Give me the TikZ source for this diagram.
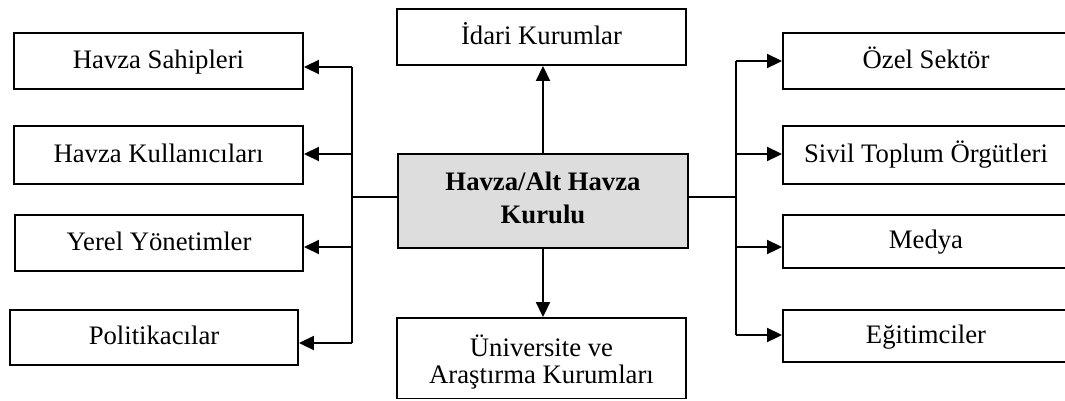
\documentclass[tikz,border=0pt]{standalone}
\usepackage{fontspec}
\setmainfont{Liberation Serif}
\usetikzlibrary{arrows.meta,calc}
\definecolor{boxgray}{HTML}{DDDDDD}
\begin{document}
\begin{tikzpicture}[x=1pt,y=-1pt,
  box/.style={draw, line width=1.9pt, rectangle, inner sep=0pt,
    font=\fontsize{26.7}{31}\selectfont, text height=20pt, text depth=6pt},
  mbox/.style={draw, line width=1.9pt, rectangle, inner sep=0pt, align=center},
  conn/.style={line width=1.9pt},
  arr/.style={line width=1.9pt, -{Triangle[length=15pt,width=14pt]}}]
\useasboundingbox (0,0) rectangle (1065,400);
\clip (0,0) rectangle (1065,400);
% left boxes
\node[box, minimum width=289pt, minimum height=56pt] (L1) at (158.5,61) {Havza Sahipleri};
\node[box, minimum width=289pt, minimum height=58pt] (L2) at (158.5,155) {Havza Kullanıcıları};
\node[box, minimum width=288pt, minimum height=56pt] (L3) at (159,243) {Yerel Yönetimler};
\node[box, minimum width=288pt, minimum height=55pt] (L4) at (154,337.5) {Politikacılar};
% centre column
\node[box, minimum width=289pt, minimum height=56pt] (T) at (541.5,37) {İdari Kurumlar};
\node[mbox, fill=boxgray, minimum width=290pt, minimum height=94pt,
  font=\fontsize{26.7}{33}\selectfont\bfseries] (C) at (543,201)
  {Havza/Alt Havza\\Kurulu\rule[-7pt]{0pt}{7pt}};
\node[mbox, minimum width=289pt, minimum height=80.5pt,
  font=\fontsize{26.7}{27}\selectfont] (B) at (541.5,358.25)
  {\rule{0pt}{29pt}Üniversite ve\\Araştırma Kurumları};
% right boxes
\node[box, minimum width=286pt, minimum height=56pt] (R1) at (926,61) {Özel Sektör};
\node[box, minimum width=286pt, minimum height=58pt] (R2) at (926,155) {Sivil Toplum Örgütleri};
\node[box, minimum width=286pt, minimum height=53pt] (R3) at (926,241.5) {Medya};
\node[box, minimum width=286pt, minimum height=52pt] (R4) at (926,336) {Eğitimciler};
% bus coordinates
\coordinate (cl) at (352,197);
\coordinate (lb1) at (352,67);
\coordinate (lb2) at (352,154);
\coordinate (lb3) at (352,247);
\coordinate (lb4) at (352,343);
\coordinate (cr) at (736,197);
\coordinate (rb1) at (736,61);
\coordinate (rb2) at (736,154);
\coordinate (rb3) at (736,247);
\coordinate (rb4) at (736,335);
% left connectors
\draw[conn] (C.west |- cl) -- (cl);
\draw[conn] (lb1) -- (lb4);
\draw[arr] (lb1) -- (L1.east |- lb1);
\draw[arr] (lb2) -- (L2.east |- lb2);
\draw[arr] (lb3) -- (L3.east |- lb3);
\draw[arr] (lb4) -- (L4.east |- lb4);
% right connectors
\draw[conn] (C.east |- cr) -- (cr);
\draw[conn] (rb1) -- (rb4);
\draw[arr] (rb1) -- (R1.west |- rb1);
\draw[arr] (rb2) -- (R2.west |- rb2);
\draw[arr] (rb3) -- (R3.west |- rb3);
\draw[arr] (rb4) -- (R4.west |- rb4);
% vertical connectors
\draw[arr] (C.north) -- (C.north |- T.south);
\draw[arr] (C.south) -- (C.south |- B.north);
\end{tikzpicture}
\end{document}
